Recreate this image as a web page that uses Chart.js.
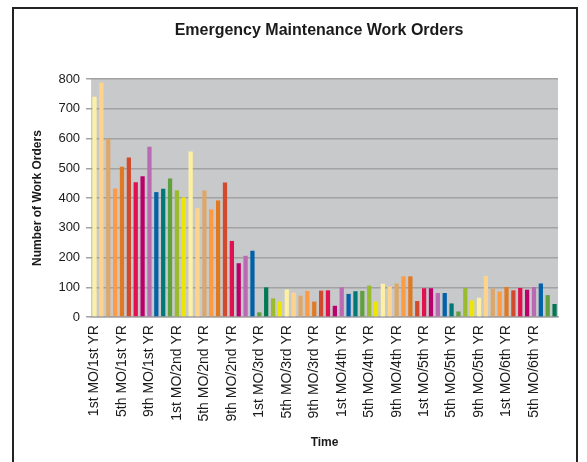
<!DOCTYPE html>
<html>
<head>
<meta charset="utf-8">
<script src="https://cdn.jsdelivr.net/npm/chart.js@4.4.1/dist/chart.umd.min.js"></script>
<style>
    html, body { margin: 0; padding: 0; background: #fff; }
    #wrap { width: 587px; height: 462px; }
</style>
</head>
<body>
<div id="wrap"><canvas id="workOrdersChart" width="587" height="462"></canvas></div>
<script>
// Chart data
const chartTitle = 'Emergency Maintenance Work Orders';
const monthNames = ['1st', '2nd', '3rd', '4th', '5th', '6th', '7th', '8th', '9th', '10th', '11th', '12th'];
const yearNames = ['1st', '2nd', '3rd', '4th', '5th', '6th'];
const monthCount = 68;
const categories = [];
for (let i = 0; i < monthCount; i++) {
    categories.push(monthNames[i % 12] + ' MO/' + yearNames[Math.floor(i / 12)] + ' YR');
}
const workOrders = [
    740, 788, 599, 432, 505, 536, 453, 473, 572, 420, 431, 466, 426, 402,
    556, 366, 426, 362, 392, 452, 256, 181, 206, 223, 16, 100, 63, 52,
    93, 82, 72, 88, 52, 89, 90, 38, 100, 78, 87, 88, 106, 52,
    112, 103, 113, 137, 137, 54, 97, 97, 81, 81, 46, 19, 98, 56,
    65, 138, 96, 86, 101, 90, 98, 92, 101, 113, 74, 44
];
const yTicks = [0, 100, 200, 300, 400, 500, 600, 700, 800];

// Bar colours (Excel "vary colours by point" style palette)
const palette = {
    LY: '#fdf0a2', LO: '#fed38c', TN: '#dca86a', OR: '#fd9a42', DO: '#e07a22',
    RO: '#d24a2e', CR: '#df1150', MG: '#b9006d', OC: '#b96ab2', BL: '#0261a8',
    TL: '#007a78', GR: '#5fa03f', DG: '#007a52', YG: '#9bbb2e', YE: '#ede600'
};
const colourKeys = [
    'LY','LO','TN','OR','DO','RO','CR','MG','OC','BL','TL','GR','YG','YE',
    'LY','LO','TN','OR','DO','RO','CR','MG','OC','BL','GR','DG','YG','YE',
    'LY','LO','TN','OR','DO','RO','CR','MG','OC','BL','TL','GR','YG','YE',
    'LY','LO','TN','OR','DO','RO','CR','MG','OC','BL','TL','GR','YG','YE',
    'LY','LO','TN','OR','DO','RO','CR','MG','OC','BL','GR','DG'
];

const fontFamily = "'Liberation Sans', Arial, sans-serif";

// Plot background, outer frame and title
const framePlugin = {
    id: 'frame',
    beforeDraw(chart) {
        const { ctx, chartArea: a } = chart;
        ctx.save();
        ctx.fillStyle = '#ffffff';
        ctx.fillRect(0, 0, chart.width, chart.height);
        ctx.fillStyle = '#c8c9cb';
        ctx.fillRect(a.left, a.top, a.right - a.left, a.bottom - a.top);
        ctx.restore();
    },
    afterDraw(chart) {
        const ctx = chart.ctx;
        ctx.save();
        ctx.strokeStyle = '#232323';
        ctx.lineWidth = 2;
        ctx.strokeRect(13, 8, 564, 480);
        ctx.fillStyle = '#1a1a1a';
        ctx.font = 'bold 16px ' + fontFamily;
        ctx.textAlign = 'center';
        ctx.textBaseline = 'middle';
        ctx.fillText(chartTitle, 319, 31);
        ctx.restore();
    }
};

new Chart(document.getElementById('workOrdersChart'), {
    type: 'bar',
    data: {
        labels: categories,
        datasets: [{
            label: 'Work Orders',
            data: workOrders,
            backgroundColor: colourKeys.map(k => palette[k]),
            borderWidth: 0,
            barPercentage: 0.62,
            categoryPercentage: 1
        }]
    },
    options: {
        responsive: false,
        animation: false,
        events: [],
        layout: {
            padding: { top: 79, right: 29, bottom: 12, left: 30 }
        },
        plugins: {
            legend: { display: false },
            tooltip: { enabled: false },
            title: { display: false }
        },
        scales: {
            x: {
                grid: { display: false, drawTicks: false },
                border: { display: true, color: '#a2a2a2', width: 1.5 },
                ticks: {
                    autoSkip: false,
                    minRotation: 90,
                    maxRotation: 90,
                    padding: 8,
                    color: '#1a1a1a',
                    font: { family: fontFamily, size: 14 },
                    callback: function(value, index) {
                        return index % 4 === 0 ? categories[index] : '';
                    }
                },
                title: {
                    display: true,
                    text: 'Time',
                    color: '#1a1a1a',
                    font: { family: fontFamily, size: 12, weight: 'bold' },
                    padding: { top: 6, bottom: 0 }
                }
            },
            y: {
                min: 0,
                max: 800,
                afterBuildTicks: function(axis) {
                    axis.ticks = yTicks.map(v => ({ value: v }));
                },
                grid: {
                    color: '#a2a2a2',
                    lineWidth: 1.5,
                    drawTicks: true,
                    tickLength: 5,
                    tickColor: '#a2a2a2'
                },
                border: { display: false },
                ticks: {
                    padding: 6,
                    color: '#1a1a1a',
                    font: { family: fontFamily, size: 13 }
                },
                title: {
                    display: true,
                    text: 'Number of Work Orders',
                    color: '#1a1a1a',
                    font: { family: fontFamily, size: 12, weight: 'bold' },
                    padding: { top: 0, bottom: 8 }
                }
            }
        }
    },
    plugins: [framePlugin]
});
</script>
</body>
</html>
